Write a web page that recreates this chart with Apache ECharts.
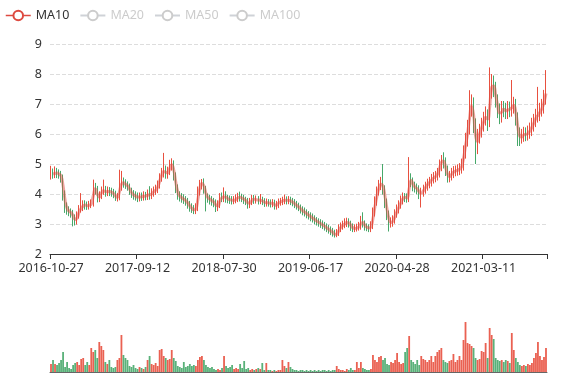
<!DOCTYPE html>
<html><head><meta charset="utf-8">
<script src="https://cdn.jsdelivr.net/npm/echarts@6/dist/echarts.min.js"></script>
<style>html,body{margin:0;padding:0;background:#fff}#chart{width:577px;height:380px}</style>
</head><body><div id="chart"></div>
<script>
// One candle ≈ 5 trading days
const dates = [
'2016-10-27','2016-11-03','2016-11-11','2016-11-18','2016-11-25','2016-12-02','2016-12-12','2016-12-19','2016-12-26','2017-01-03',
'2017-01-09','2017-01-17','2017-01-24','2017-02-03','2017-02-08','2017-02-16','2017-02-23','2017-03-03','2017-03-10','2017-03-17',
'2017-03-24','2017-03-31','2017-04-10','2017-04-17','2017-04-24','2017-05-02','2017-05-08','2017-05-16','2017-05-23','2017-05-31',
'2017-06-07','2017-06-15','2017-06-22','2017-06-30','2017-07-07','2017-07-14','2017-07-21','2017-07-28','2017-08-07','2017-08-14',
'2017-08-21','2017-08-28','2017-09-05',
'2017-09-12','2017-09-19','2017-09-27','2017-09-29','2017-10-12','2017-10-19','2017-10-27','2017-11-03','2017-11-10','2017-11-17',
'2017-11-27','2017-12-04','2017-12-11','2017-12-18','2017-12-26','2018-01-02','2018-01-09','2018-01-17','2018-01-24','2018-02-01',
'2018-02-08','2018-02-14','2018-02-23','2018-03-02','2018-03-09','2018-03-19','2018-03-26','2018-04-02','2018-04-09','2018-04-16',
'2018-04-24','2018-05-02','2018-05-09','2018-05-16','2018-05-24','2018-05-31','2018-06-08','2018-06-15','2018-06-22','2018-06-29',
'2018-07-09','2018-07-16','2018-07-23',
'2018-07-30','2018-08-06','2018-08-14','2018-08-21','2018-08-29','2018-09-05','2018-09-13','2018-09-20','2018-09-28','2018-10-08',
'2018-10-15','2018-10-22','2018-10-29','2018-11-05','2018-11-12','2018-11-19','2018-11-27','2018-12-04','2018-12-12','2018-12-19',
'2018-12-27','2019-01-03','2019-01-11','2019-01-18','2019-01-25','2019-02-01','2019-02-11','2019-02-18','2019-02-25','2019-03-04',
'2019-03-12','2019-03-19','2019-03-27','2019-04-03','2019-04-11','2019-04-18','2019-04-26','2019-05-06','2019-05-10','2019-05-17',
'2019-05-27','2019-06-03','2019-06-10',
'2019-06-17','2019-06-24','2019-07-02','2019-07-09','2019-07-16','2019-07-24','2019-07-31','2019-08-07','2019-08-15','2019-08-22',
'2019-08-29','2019-09-06','2019-09-12','2019-09-20','2019-09-27','2019-10-08','2019-10-14','2019-10-21','2019-10-28','2019-11-04',
'2019-11-11','2019-11-18','2019-11-26','2019-12-03','2019-12-10','2019-12-18','2019-12-25','2020-01-02','2020-01-09','2020-01-16',
'2020-01-23','2020-02-03','2020-02-07','2020-02-14','2020-02-21','2020-02-28','2020-03-09','2020-03-16','2020-03-23','2020-03-30',
'2020-04-07','2020-04-13','2020-04-21',
'2020-04-28','2020-05-06','2020-05-13','2020-05-20','2020-05-27','2020-06-04','2020-06-11','2020-06-19','2020-06-29','2020-07-03',
'2020-07-10','2020-07-17','2020-07-24','2020-08-03','2020-08-10','2020-08-17','2020-08-24','2020-08-31','2020-09-08','2020-09-15',
'2020-09-22','2020-09-30','2020-10-09','2020-10-15','2020-10-22','2020-10-29','2020-11-06','2020-11-13','2020-11-20','2020-11-27',
'2020-12-04','2020-12-14','2020-12-21','2020-12-28','2021-01-04','2021-01-11','2021-01-18','2021-01-26','2021-02-02','2021-02-10',
'2021-02-18','2021-02-24','2021-03-04',
'2021-03-11','2021-03-18','2021-03-25','2021-04-01','2021-04-09','2021-04-16','2021-04-23','2021-04-30','2021-05-11','2021-05-18',
'2021-05-25','2021-06-01','2021-06-08','2021-06-16','2021-06-23','2021-06-30','2021-07-07','2021-07-14','2021-07-21','2021-07-28',
'2021-08-04','2021-08-11','2021-08-18','2021-08-25','2021-09-01','2021-09-08','2021-09-15','2021-09-23','2021-09-30','2021-10-14',
'2021-10-21','2021-10-28'
];

const opens = [
4.62,4.70,4.65,4.72,4.68,4.65,4.55,4.00,3.60,3.45,
3.40,3.35,3.20,3.10,3.30,3.50,3.55,3.65,3.62,3.60,
3.65,3.68,4.20,4.15,3.85,3.95,4.10,4.12,4.05,4.10,
4.08,4.05,4.00,3.88,3.90,4.25,4.40,4.35,4.30,4.25,
4.10,4.00,3.95,3.92,3.88,3.92,3.90,3.95,3.92,4.00,
3.95,4.05,4.10,4.15,4.30,4.55,4.70,4.80,4.65,4.75,
4.95,5.00,4.60,4.20,3.95,3.90,3.85,3.80,3.75,3.65,
3.55,3.50,3.45,3.55,4.10,4.30,4.40,4.15,3.90,3.85,
3.80,3.75,3.70,3.55,3.65,3.90,3.85,3.95,3.85,3.82,
3.80,3.78,3.80,3.85,3.90,3.88,3.85,3.80,3.75,3.65,
3.75,3.85,3.80,3.82,3.78,3.80,3.75,3.70,3.72,3.70,
3.68,3.70,3.60,3.65,3.72,3.75,3.78,3.80,3.78,3.80,
3.75,3.72,3.65,3.60,3.55,3.48,3.42,3.38,3.32,3.28,
3.22,3.18,3.12,3.08,3.04,3.00,2.95,2.90,2.85,2.80,
2.75,2.70,2.62,2.70,2.85,2.92,2.98,3.02,3.08,3.00,
2.90,2.85,2.85,2.88,2.92,3.10,3.00,2.90,2.88,2.85,
2.95,3.40,3.75,4.10,4.30,4.35,4.15,3.70,3.30,3.05,
3.05,3.15,3.35,3.50,3.65,3.80,3.90,3.88,3.85,4.50,
4.40,4.25,4.20,4.15,4.00,4.05,4.15,4.25,4.35,4.40,
4.50,4.55,4.60,4.70,4.95,5.15,5.05,4.80,4.55,4.60,
4.70,4.75,4.78,4.80,4.85,4.95,5.40,5.80,6.20,6.85,
7.00,6.30,5.60,5.90,6.10,6.30,6.50,6.60,6.40,7.40,
7.70,7.50,7.10,6.80,6.60,6.85,6.80,6.75,6.85,6.80,
6.90,6.95,6.50,6.00,5.85,5.95,6.00,5.98,6.05,6.15,
6.30,6.45,6.60,6.65,6.80,6.90,7.20
];

const closes = [
4.70,4.65,4.72,4.68,4.65,4.55,4.00,3.60,3.45,3.40,
3.35,3.20,3.10,3.30,3.50,3.55,3.65,3.62,3.60,3.65,
3.68,4.20,4.15,3.85,3.95,4.10,4.12,4.05,4.10,4.08,
4.05,4.00,3.88,3.90,4.25,4.40,4.35,4.30,4.25,4.10,
4.00,3.95,3.92,3.88,3.92,3.90,3.95,3.92,4.00,3.95,
4.05,4.10,4.15,4.30,4.55,4.70,4.80,4.65,4.75,4.95,
5.00,4.60,4.20,3.95,3.90,3.85,3.80,3.75,3.65,3.55,
3.50,3.45,3.55,4.10,4.30,4.40,4.15,3.90,3.85,3.80,
3.75,3.70,3.55,3.65,3.90,3.85,3.95,3.85,3.82,3.80,
3.78,3.80,3.85,3.90,3.88,3.85,3.80,3.75,3.65,3.75,
3.85,3.80,3.82,3.78,3.80,3.75,3.70,3.72,3.70,3.68,
3.70,3.60,3.65,3.72,3.75,3.78,3.80,3.78,3.80,3.75,
3.72,3.65,3.60,3.55,3.48,3.42,3.38,3.32,3.28,3.22,
3.18,3.12,3.08,3.04,3.00,2.95,2.90,2.85,2.80,2.75,
2.70,2.62,2.70,2.85,2.92,2.98,3.02,3.08,3.00,2.90,
2.85,2.85,2.88,2.92,3.10,3.00,2.90,2.88,2.85,2.95,
3.40,3.75,4.10,4.30,4.35,4.15,3.70,3.30,3.05,3.05,
3.15,3.35,3.50,3.65,3.80,3.90,3.88,3.85,4.50,4.40,
4.25,4.20,4.15,4.00,4.05,4.15,4.25,4.35,4.40,4.50,
4.55,4.60,4.70,4.95,5.15,5.05,4.80,4.55,4.60,4.70,
4.75,4.78,4.80,4.85,4.95,5.40,5.80,6.20,6.85,7.00,
6.30,5.60,5.90,6.10,6.30,6.50,6.60,6.40,7.40,7.70,
7.50,7.10,6.80,6.60,6.85,6.80,6.75,6.85,6.80,6.95,
6.95,6.50,6.00,5.85,5.95,6.00,5.98,6.05,6.15,6.30,
6.45,6.60,6.65,6.80,6.90,7.20,7.50
];

const lows = [
4.48,4.51,4.53,4.53,4.51,4.38,3.78,3.37,3.31,3.26,
3.21,2.92,2.95,2.98,3.18,3.38,3.43,3.48,3.47,3.48,
3.53,3.58,3.98,3.72,3.73,3.83,3.97,3.91,3.93,3.93,
3.91,3.86,3.77,3.75,3.79,4.11,4.21,4.17,4.11,3.97,
3.87,3.81,3.78,3.73,3.75,3.77,3.78,3.79,3.80,3.81,
3.83,3.91,3.97,4.03,4.18,4.41,4.55,4.51,4.51,4.63,
4.78,4.45,4.03,3.81,3.75,3.71,3.67,3.61,3.51,3.41,
3.37,3.33,3.33,3.43,3.95,4.15,4.01,3.42,3.71,3.65,
3.61,3.56,3.40,3.43,3.53,3.73,3.73,3.71,3.69,3.67,
3.65,3.66,3.69,3.73,3.75,3.73,3.67,3.63,3.51,3.53,
3.63,3.67,3.68,3.65,3.66,3.63,3.57,3.58,3.58,3.55,
3.56,3.48,3.48,3.53,3.61,3.63,3.66,3.65,3.66,3.63,
3.59,3.53,3.48,3.43,3.35,3.29,3.25,3.19,3.15,3.09,
3.05,2.99,2.95,2.91,2.87,2.83,2.78,2.73,2.68,2.63,
2.58,2.55,2.56,2.60,2.73,2.81,2.86,2.90,2.88,2.77,
2.73,2.73,2.75,2.78,2.81,2.88,2.78,2.76,2.73,2.73,
2.83,3.25,3.61,3.95,4.13,3.98,3.53,3.13,2.75,2.88,
2.91,3.01,3.21,3.35,3.51,3.65,3.73,3.71,3.73,4.23,
4.09,4.05,3.99,3.83,3.55,3.91,4.01,4.11,4.19,4.25,
4.35,4.39,4.45,4.55,4.76,4.85,4.60,4.38,4.39,4.45,
4.53,4.59,4.61,4.63,4.68,4.78,5.18,5.58,5.98,6.58,
6.03,5.00,5.33,5.68,5.88,6.08,6.28,6.10,6.23,7.18,
7.23,6.88,6.53,6.33,6.38,6.56,6.50,6.50,6.56,6.58,
6.68,6.28,5.60,5.60,5.68,5.74,5.76,5.78,5.84,5.93,
6.08,6.23,6.38,6.43,6.58,6.68,6.98
];

const highs = [
4.94,4.85,4.92,4.87,4.82,4.77,4.65,4.12,3.72,3.59,
3.52,3.47,3.32,3.42,3.63,4.03,3.79,3.79,3.75,3.77,
3.82,4.48,4.37,4.27,4.09,4.25,4.48,4.27,4.25,4.23,
4.21,4.17,4.11,4.03,4.81,4.77,4.55,4.49,4.42,4.35,
4.21,4.13,4.09,4.05,4.05,4.05,4.09,4.07,4.15,4.26,
4.19,4.25,4.31,4.45,4.69,4.87,5.37,4.95,4.91,5.14,
5.19,5.12,4.72,4.32,4.09,4.03,3.99,3.93,3.87,3.77,
3.69,3.63,3.69,4.25,4.47,4.50,4.52,4.27,4.02,3.97,
3.93,3.87,3.82,3.79,4.03,4.05,4.22,4.09,3.97,3.95,
3.93,3.93,3.99,4.04,4.08,4.01,3.97,3.91,3.87,3.87,
3.97,3.97,3.95,3.93,4.00,3.91,3.86,3.85,3.83,3.82,
3.83,3.81,3.77,3.85,3.87,3.91,3.98,3.92,3.93,3.91,
3.87,3.83,3.77,3.71,3.65,3.59,3.55,3.49,3.43,3.39,
3.35,3.29,3.23,3.19,3.16,3.12,3.07,3.02,2.97,2.92,
2.87,2.81,2.83,2.99,3.05,3.11,3.19,3.21,3.19,3.11,
3.02,2.99,3.01,3.07,3.27,3.39,3.12,3.02,2.99,3.09,
3.55,3.92,4.25,4.47,4.57,5.00,4.29,3.85,3.45,3.22,
3.29,3.49,3.65,3.79,3.95,4.05,4.03,4.02,5.23,4.69,
4.55,4.41,4.35,4.29,4.21,4.31,4.41,4.51,4.57,4.67,
4.73,4.77,4.87,5.15,5.30,5.39,5.22,4.95,4.77,4.87,
4.93,4.95,4.99,5.03,5.18,5.62,6.04,6.47,7.46,7.32,
7.22,6.52,6.17,6.34,6.54,6.74,6.92,6.82,8.22,8.00,
7.95,7.74,7.32,7.02,7.10,7.10,7.04,7.10,7.08,7.80,
7.24,7.17,6.72,6.22,6.17,6.24,6.22,6.28,6.38,6.54,
6.67,6.84,7.57,7.04,7.17,7.47,8.13
];

const volumes = [
8,12,8,7,9,12,20,5,10,4,
3,7,9,10,7,13,14,7,10,7,
24,20,22,14,30,26,22,10,8,12,
5,4,5,12,14,37,17,14,12,6,
5,7,4,3,5,4,3,5,12,16,
8,7,9,6,22,23,16,14,12,13,
22,14,11,6,5,4,10,5,6,8,
6,7,6,12,15,16,12,7,5,4,
5,3,2,3,2,4,16,6,4,5,
7,3,4,3,8,4,11,3,4,2,
3,2,3,4,3,9,2,9,2,2,
1,2,1,2,2,12,6,4,10,5,
3,2,2,1,2,2,1,2,1,2,
1,2,1,2,1,2,2,1,2,1,
2,2,6,3,2,2,1,3,2,4,
2,2,10,4,10,4,3,2,2,3,
17,12,10,15,16,12,14,8,7,10,
9,12,19,10,8,9,20,24,36,12,
10,8,12,7,16,13,12,10,12,16,
10,16,20,22,24,12,10,9,11,12,
18,10,12,16,12,32,50,29,28,26,
24,14,12,13,21,20,29,14,44,37,
33,14,12,11,12,10,12,11,9,39,
22,14,10,7,6,7,6,8,7,9,
14,19,30,16,12,15,24
];

const tickLabels = ['2016-10-27','2017-09-12','2018-07-30','2019-06-17','2020-04-28','2021-03-11'];
const priceTicks = [2,3,4,5,6,7,8,9];
const maNames = ['MA10','MA20','MA50','MA100'];
const maCandles = [2,4,10,20]; // 10/20/50/100 trading days at 5 days per candle

const UP = '#e8503f', DOWN = '#47a86a';
const FONT = 'Noto Sans';

function movingAverage(n) {
  const out = [];
  for (let i = 0; i < closes.length; i++) {
    if (i < n - 1) { out.push(null); continue; }
    let s = 0;
    for (let j = 0; j < n; j++) s += closes[i - j];
    out.push(+(s / n).toFixed(3));
  }
  return out;
}

const kData = dates.map((d, i) => [opens[i], closes[i], lows[i], highs[i]]);
const volData = volumes.map((v, i) => ({
  value: v,
  itemStyle: { color: closes[i] >= opens[i] ? UP : DOWN, opacity: 0.9 }
}));
const isTick = (idx, val) => tickLabels.indexOf(val) >= 0;

const maColors = ['#dd4a40', '#5470c6', '#91cc75', '#fac858'];
const maSeries = maNames.map((name, k) => ({
  name: name,
  type: 'line',
  data: movingAverage(maCandles[k]),
  showSymbol: false,
  symbol: 'emptyCircle',
  smooth: true,
  itemStyle: { color: maColors[k] },
  lineStyle: { color: maColors[k], width: 3, opacity: 0.5 },
  xAxisIndex: 0, yAxisIndex: 0,
  z: 5
}));

const chart = echarts.init(document.getElementById('chart'), null, { renderer: 'canvas' });
chart.setOption({
  animation: false,
  backgroundColor: '#fff',
  textStyle: { fontFamily: FONT },
  legend: {
    data: maNames,
    left: 5, top: 9, padding: 0,
    itemWidth: 25, itemHeight: 12, itemGap: 10,
    inactiveColor: '#ccc',
    lineStyle: { width: 1.5, opacity: 1 },
    itemStyle: { borderWidth: 1.5 },
    textStyle: { color: '#333', fontSize: 12.5, fontFamily: FONT },
    selected: { MA10: true, MA20: false, MA50: false, MA100: false }
  },
  grid: [
    { left: 50, right: 30, top: 44, height: 210 },
    { left: 50, right: 30, top: 300, height: 72 }
  ],
  xAxis: [
    {
      type: 'category', gridIndex: 0, data: dates, boundaryGap: true,
      axisLine: { show: true, lineStyle: { color: '#333' } },
      axisTick: { show: true, interval: isTick, lineStyle: { color: '#333' }, length: 5 },
      axisLabel: { interval: isTick, color: '#333', fontSize: 12.5, fontFamily: FONT, margin: 8 },
      splitLine: { show: false }
    },
    {
      type: 'category', gridIndex: 1, data: dates, boundaryGap: true,
      axisLine: { show: true, lineStyle: { color: '#666' } },
      axisTick: { show: false }, axisLabel: { show: false }, splitLine: { show: false }
    }
  ],
  yAxis: [
    {
      type: 'value', gridIndex: 0,
      min: priceTicks[0], max: priceTicks[priceTicks.length - 1], interval: 1,
      axisLine: { show: false }, axisTick: { show: false },
      axisLabel: { color: '#333', fontSize: 12.5, fontFamily: FONT, margin: 8 },
      splitLine: { show: true, lineStyle: { type: 'dashed', color: '#ddd' } }
    },
    {
      type: 'value', gridIndex: 1, min: 0, max: 72,
      axisLine: { show: false }, axisTick: { show: false },
      axisLabel: { show: false }, splitLine: { show: false }
    }
  ],
  series: [
    {
      name: 'K', type: 'candlestick', data: kData,
      xAxisIndex: 0, yAxisIndex: 0, barWidth: '60%',
      itemStyle: { color: UP, color0: DOWN, borderColor: UP, borderColor0: DOWN, borderWidth: 1 }
    }
  ].concat(maSeries).concat([
    {
      name: 'Volume', type: 'bar', data: volData,
      xAxisIndex: 1, yAxisIndex: 1, barWidth: '90%'
    }
  ])
});
</script>
</body></html>
